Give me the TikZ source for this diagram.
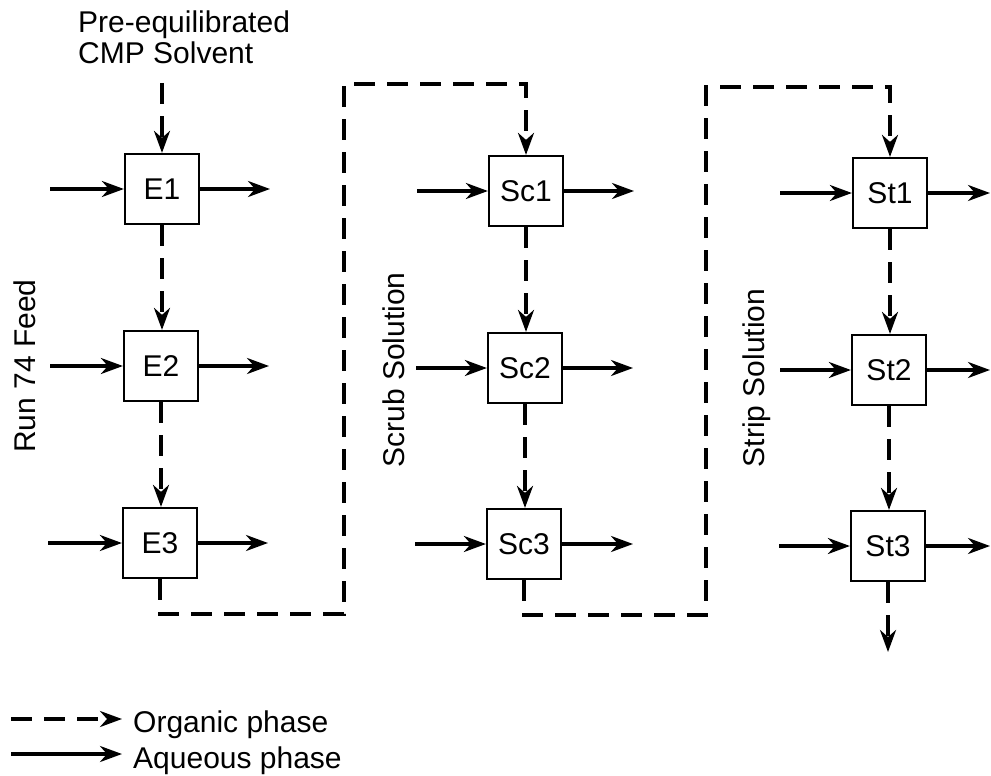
\documentclass[tikz,border=0pt]{standalone}
\usepackage{fontspec}
\setmainfont{Liberation Sans}
\usetikzlibrary{arrows.meta}
\begin{document}
\begin{tikzpicture}[x=1pt,y=-1pt,
  stage/.style={draw, line width=2.2pt, minimum width=74pt, minimum height=70pt, inner sep=0pt, font=\fontsize{30}{33}\selectfont},
  aq/.style={line width=3.3pt, -{Stealth[length=22pt,width=16pt,inset=7pt]}},
  org/.style={aq, dash pattern=on 21pt off 12pt},
  lbl/.style={font=\fontsize{30}{31}\selectfont, inner sep=0pt}]
\useasboundingbox (0,0) rectangle (991,776);

% stages
\node[stage] (E1) at (162,189) {E1};
\node[stage] (E2) at (161,366) {E2};
\node[stage] (E3) at (160,543) {E3};
\node[stage] (S1) at (526,191) {Sc1};
\node[stage] (S2) at (525,368) {Sc2};
\node[stage] (S3) at (524,544) {Sc3};
\node[stage] (T1) at (890,193) {St1};
\node[stage] (T2) at (889,370) {St2};
\node[stage] (T3) at (888,546) {St3};

% labels
\node[lbl, align=left, anchor=north west] (solvlbl) at (78,11) {Pre-equilibrated\\CMP Solvent};
\node[lbl, rotate=90] (feed) at (25,366) {Run 74 Feed};
\node[lbl, rotate=90] (scrub) at (394,370) {Scrub Solution};
\node[lbl, rotate=90] (strip) at (757,378) {Strip Solution};

% free ends
\coordinate (solv) at (162,83);
\coordinate (e1i) at (50,189);  \coordinate (e1o) at (270,189);
\coordinate (e2i) at (50,366);  \coordinate (e2o) at (269,366);
\coordinate (e3i) at (48,543);  \coordinate (e3o) at (268,543);
\coordinate (s1i) at (417,191); \coordinate (s1o) at (634,191);
\coordinate (s2i) at (416,368); \coordinate (s2o) at (633,368);
\coordinate (s3i) at (415,544); \coordinate (s3o) at (633,544);
\coordinate (t1i) at (780,193); \coordinate (t1o) at (990,193);
\coordinate (t2i) at (780,370); \coordinate (t2o) at (990,370);
\coordinate (t3i) at (779,546); \coordinate (t3o) at (990,546);
\coordinate (tout) at (888,652);
\coordinate (loopA) at (344,614);
\coordinate (loopB) at (344,84);
\coordinate (loopC) at (706,615);
\coordinate (loopD) at (706,87);

% aqueous
\foreach \n/\a/\b in {E1/e1i/e1o,E2/e2i/e2o,E3/e3i/e3o,S1/s1i/s1o,S2/s2i/s2o,S3/s3i/s3o,T1/t1i/t1o,T2/t2i/t2o,T3/t3i/t3o}{
  \draw[aq] (\a) -- (\n);
  \draw[aq] (\n) -- (\b);
}

% organic
\draw[org] (solv) -- (E1.north);
\draw[org] (E1.south) -- (E1.south |- E2.north);
\draw[org] (E2.south) -- (E2.south |- E3.north);
\draw[org] (E3.south) |- (loopA) -- (loopB) -| (S1.north);
\draw[org] (S1.south) -- (S1.south |- S2.north);
\draw[org] (S2.south) -- (S2.south |- S3.north);
\draw[org] (S3.south) |- (loopC) -- (loopD) -| (T1.north);
\draw[org] (T1.south) -- (T1.south |- T2.north);
\draw[org] (T2.south) -- (T2.south |- T3.north);
\draw[org] (T3.south) -- (tout);

% legend
\coordinate (l1a) at (11,719); \coordinate (l1b) at (122,719);
\coordinate (l2a) at (11,754); \coordinate (l2b) at (122,754);
\draw[org] (l1a) -- (l1b);
\draw[aq] (l2a) -- (l2b);
\node[lbl, anchor=base west] (orglbl) at (133,732) {Organic phase};
\node[lbl, anchor=base west] (aqlbl) at (133,768) {Aqueous phase};
\end{tikzpicture}
\end{document}
